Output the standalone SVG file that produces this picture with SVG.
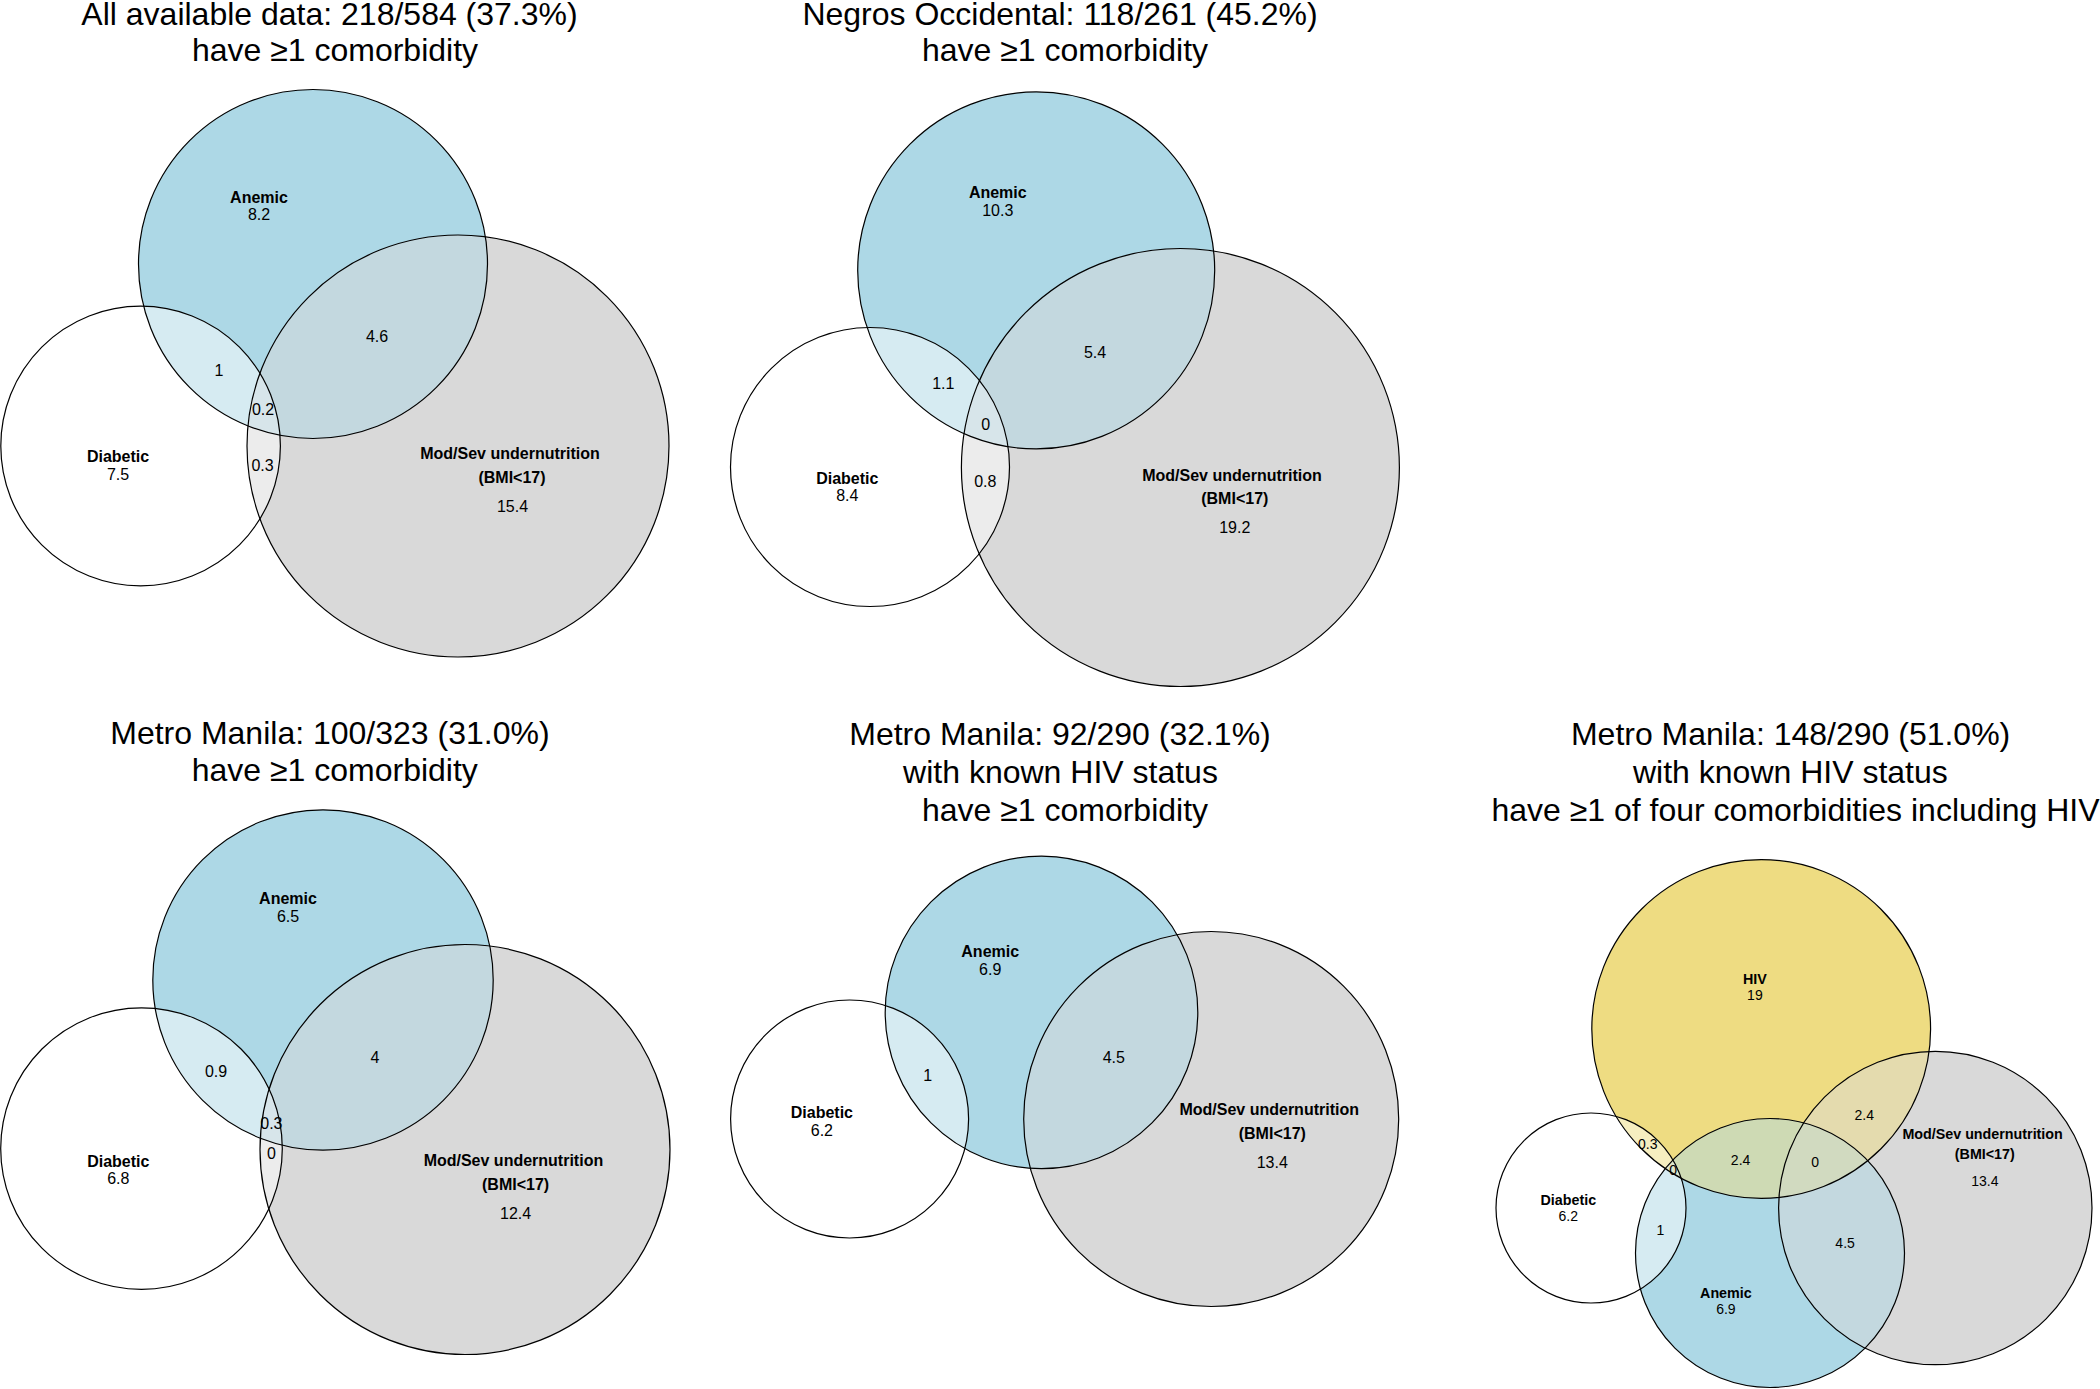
<svg xmlns="http://www.w3.org/2000/svg" width="2100" height="1389" viewBox="0 0 2100 1389">
<style>
text{font-family:"Liberation Sans",Arial,Helvetica,sans-serif;fill:#000;text-anchor:middle}
.t{font-size:32px}
.n{font-size:16px;font-weight:bold}
.v{font-size:16px}
.n5{font-size:14.3px;font-weight:bold}
.v5{font-size:14px}
.o{fill:none;stroke:#000;stroke-width:1.2}
.cL{fill:#add8e6}.cG{fill:#d9d9d9}.cW{fill:#fff}.cY{fill:#eedc82}
.cLW{fill:#d6ebf2}.cLG{fill:#c3d8df}.cGW{fill:#ececec}.cLGW{fill:#d7e5ea}
.cYW{fill:#f6eec0}.cYL{fill:#cedab4}.cYG{fill:#e4dbae}.cYLW{fill:#dee6cd}.cYLG{fill:#d1dac0}
</style>
<defs>
<clipPath id="p1A"><circle cx="313" cy="264" r="174.5"/></clipPath>
<clipPath id="p1D"><circle cx="140.6" cy="446" r="139.8"/></clipPath>
<clipPath id="p2A"><circle cx="1036.2" cy="270.4" r="178.5"/></clipPath>
<clipPath id="p2D"><circle cx="870" cy="467" r="139.5"/></clipPath>
<clipPath id="p3A"><circle cx="323" cy="980" r="170.2"/></clipPath>
<clipPath id="p3D"><circle cx="141.5" cy="1148.6" r="140.8"/></clipPath>
<clipPath id="p4A"><circle cx="1041.5" cy="1012.4" r="156.3"/></clipPath>
<clipPath id="p5H"><circle cx="1761.2" cy="1029" r="169.4"/></clipPath>
<clipPath id="p5A"><circle cx="1770" cy="1253" r="134.5"/></clipPath>
<clipPath id="p5D"><circle cx="1591" cy="1208" r="95"/></clipPath>
</defs>
<rect width="2100" height="1389" fill="#fff"/>

<!-- Panel 1 -->
<g id="panel1">
<text class="t" x="329.5" y="25">All available data: 218/584 (37.3%)</text>
<text class="t" x="335" y="61">have ≥1 comorbidity</text>
<g id="p1-regions">
<circle class="cL" cx="313" cy="264" r="174.5"/>
<circle class="cW" cx="140.6" cy="446" r="139.8"/>
<circle class="cG" cx="458" cy="446" r="211"/>
<circle class="cLW" cx="140.6" cy="446" r="139.8" clip-path="url(#p1A)"/>
<circle class="cLG" cx="458" cy="446" r="211" clip-path="url(#p1A)"/>
<circle class="cGW" cx="458" cy="446" r="211" clip-path="url(#p1D)"/>
<g clip-path="url(#p1A)"><circle class="cLGW" cx="458" cy="446" r="211" clip-path="url(#p1D)"/></g>
</g>
<g id="p1-anemic"><circle class="o" cx="313" cy="264" r="174.5"/><text class="n" x="259" y="202.5">Anemic</text><text class="v" x="259" y="220">8.2</text></g>
<g id="p1-diabetic"><circle class="o" cx="140.6" cy="446" r="139.8"/><text class="n" x="118" y="461.8">Diabetic</text><text class="v" x="118" y="480">7.5</text></g>
<g id="p1-undernutrition"><circle class="o" cx="458" cy="446" r="211"/><text class="n" x="510" y="458.8">Mod/Sev undernutrition</text><text class="n" x="512" y="482.7">(BMI&lt;17)</text><text class="v" x="512.5" y="511.7">15.4</text></g>
<g id="p1-overlaps">
<text class="v" x="377" y="341.7">4.6</text>
<text class="v" x="219" y="376.4">1</text>
<text class="v" x="263" y="415">0.2</text>
<text class="v" x="262.5" y="470.5">0.3</text>
</g>
</g>

<!-- Panel 2 -->
<g id="panel2">
<text class="t" x="1060" y="25">Negros Occidental: 118/261 (45.2%)</text>
<text class="t" x="1065" y="61">have ≥1 comorbidity</text>
<g id="p2-regions">
<circle class="cL" cx="1036.2" cy="270.4" r="178.5"/>
<circle class="cW" cx="870" cy="467" r="139.5"/>
<circle class="cG" cx="1180.4" cy="467.5" r="219"/>
<circle class="cLW" cx="870" cy="467" r="139.5" clip-path="url(#p2A)"/>
<circle class="cLG" cx="1180.4" cy="467.5" r="219" clip-path="url(#p2A)"/>
<circle class="cGW" cx="1180.4" cy="467.5" r="219" clip-path="url(#p2D)"/>
<g clip-path="url(#p2A)"><circle class="cLGW" cx="1180.4" cy="467.5" r="219" clip-path="url(#p2D)"/></g>
</g>
<g id="p2-anemic"><circle class="o" cx="1036.2" cy="270.4" r="178.5"/><text class="n" x="997.8" y="198.2">Anemic</text><text class="v" x="997.8" y="216">10.3</text></g>
<g id="p2-diabetic"><circle class="o" cx="870" cy="467" r="139.5"/><text class="n" x="847.3" y="484">Diabetic</text><text class="v" x="847.3" y="501.3">8.4</text></g>
<g id="p2-undernutrition"><circle class="o" cx="1180.4" cy="467.5" r="219"/><text class="n" x="1232" y="480.5">Mod/Sev undernutrition</text><text class="n" x="1234.8" y="504.3">(BMI&lt;17)</text><text class="v" x="1234.8" y="532.5">19.2</text></g>
<g id="p2-overlaps">
<text class="v" x="1095" y="357.8">5.4</text>
<text class="v" x="943.3" y="389.4">1.1</text>
<text class="v" x="985.7" y="430.2">0</text>
<text class="v" x="985.3" y="487">0.8</text>
</g>
</g>

<!-- Panel 3 -->
<g id="panel3">
<text class="t" x="329.9" y="744">Metro Manila: 100/323 (31.0%)</text>
<text class="t" x="334.8" y="781">have ≥1 comorbidity</text>
<g id="p3-regions">
<circle class="cL" cx="323" cy="980" r="170.2"/>
<circle class="cW" cx="141.5" cy="1148.6" r="140.8"/>
<circle class="cG" cx="465" cy="1149.5" r="205"/>
<circle class="cLW" cx="141.5" cy="1148.6" r="140.8" clip-path="url(#p3A)"/>
<circle class="cLG" cx="465" cy="1149.5" r="205" clip-path="url(#p3A)"/>
<circle class="cGW" cx="465" cy="1149.5" r="205" clip-path="url(#p3D)"/>
<g clip-path="url(#p3A)"><circle class="cLGW" cx="465" cy="1149.5" r="205" clip-path="url(#p3D)"/></g>
</g>
<g id="p3-anemic"><circle class="o" cx="323" cy="980" r="170.2"/><text class="n" x="288" y="904.3">Anemic</text><text class="v" x="288" y="921.9">6.5</text></g>
<g id="p3-diabetic"><circle class="o" cx="141.5" cy="1148.6" r="140.8"/><text class="n" x="118.3" y="1166.6">Diabetic</text><text class="v" x="118.3" y="1184.2">6.8</text></g>
<g id="p3-undernutrition"><circle class="o" cx="465" cy="1149.5" r="205"/><text class="n" x="513.4" y="1165.7">Mod/Sev undernutrition</text><text class="n" x="515.6" y="1189.9">(BMI&lt;17)</text><text class="v" x="515.6" y="1218.5">12.4</text></g>
<g id="p3-overlaps">
<text class="v" x="375" y="1062.5">4</text>
<text class="v" x="216" y="1076.5">0.9</text>
<text class="v" x="271.4" y="1129.3">0.3</text>
<text class="v" x="271.4" y="1159.1">0</text>
</g>
</g>

<!-- Panel 4 -->
<g id="panel4">
<text class="t" x="1060" y="745">Metro Manila: 92/290 (32.1%)</text>
<text class="t" x="1060.5" y="783">with known HIV status</text>
<text class="t" x="1065" y="821">have ≥1 comorbidity</text>
<g id="p4-regions">
<circle class="cL" cx="1041.5" cy="1012.4" r="156.3"/>
<circle class="cW" cx="849.6" cy="1119" r="119"/>
<circle class="cG" cx="1211.2" cy="1119" r="187.5"/>
<circle class="cLW" cx="849.6" cy="1119" r="119" clip-path="url(#p4A)"/>
<circle class="cLG" cx="1211.2" cy="1119" r="187.5" clip-path="url(#p4A)"/>
</g>
<g id="p4-anemic"><circle class="o" cx="1041.5" cy="1012.4" r="156.3"/><text class="n" x="990.2" y="957">Anemic</text><text class="v" x="990.2" y="974.6">6.9</text></g>
<g id="p4-diabetic"><circle class="o" cx="849.6" cy="1119" r="119"/><text class="n" x="821.9" y="1118.3">Diabetic</text><text class="v" x="821.9" y="1135.9">6.2</text></g>
<g id="p4-undernutrition"><circle class="o" cx="1211.2" cy="1119" r="187.5"/><text class="n" x="1269.2" y="1115.2">Mod/Sev undernutrition</text><text class="n" x="1272.3" y="1139.4">(BMI&lt;17)</text><text class="v" x="1272.3" y="1167.9">13.4</text></g>
<g id="p4-overlaps">
<text class="v" x="1113.8" y="1063.4">4.5</text>
<text class="v" x="927.7" y="1080.9">1</text>
</g>
</g>

<!-- Panel 5 -->
<g id="panel5">
<text class="t" x="1790.6" y="745">Metro Manila: 148/290 (51.0%)</text>
<text class="t" x="1790.4" y="783">with known HIV status</text>
<text class="t" x="1795.5" y="821">have ≥1 of four comorbidities including HIV</text>
<g id="p5-regions">
<circle class="cY" cx="1761.2" cy="1029" r="169.4"/>
<circle class="cW" cx="1591" cy="1208" r="95"/>
<circle class="cL" cx="1770" cy="1253" r="134.5"/>
<circle class="cG" cx="1935.3" cy="1208" r="156.7"/>
<circle class="cYW" cx="1591" cy="1208" r="95" clip-path="url(#p5H)"/>
<circle class="cYL" cx="1770" cy="1253" r="134.5" clip-path="url(#p5H)"/>
<circle class="cYG" cx="1935.3" cy="1208" r="156.7" clip-path="url(#p5H)"/>
<circle class="cLW" cx="1591" cy="1208" r="95" clip-path="url(#p5A)"/>
<circle class="cLG" cx="1935.3" cy="1208" r="156.7" clip-path="url(#p5A)"/>
<g clip-path="url(#p5H)"><circle class="cYLW" cx="1591" cy="1208" r="95" clip-path="url(#p5A)"/></g>
<g clip-path="url(#p5H)"><circle class="cYLG" cx="1935.3" cy="1208" r="156.7" clip-path="url(#p5A)"/></g>
</g>
<g id="p5-hiv"><circle class="o" cx="1761.2" cy="1029" r="169.4"/><text class="n5" x="1754.9" y="984.3">HIV</text><text class="v5" x="1754.9" y="1000">19</text></g>
<g id="p5-diabetic"><circle class="o" cx="1591" cy="1208" r="95"/><text class="n5" x="1568.3" y="1205.3">Diabetic</text><text class="v5" x="1568.3" y="1220.6">6.2</text></g>
<g id="p5-anemic"><circle class="o" cx="1770" cy="1253" r="134.5"/><text class="n5" x="1725.9" y="1297.5">Anemic</text><text class="v5" x="1725.9" y="1313.8">6.9</text></g>
<g id="p5-undernutrition"><circle class="o" cx="1935.3" cy="1208" r="156.7"/><text class="n5" x="1982.6" y="1138.5">Mod/Sev undernutrition</text><text class="n5" x="1984.8" y="1159.1">(BMI&lt;17)</text><text class="v5" x="1984.8" y="1185.5">13.4</text></g>
<g id="p5-overlaps">
<text class="v5" x="1864.3" y="1119.6">2.4</text>
<text class="v5" x="1647.8" y="1149">0.3</text>
<text class="v5" x="1673.2" y="1174.5">0</text>
<text class="v5" x="1740.6" y="1164.8">2.4</text>
<text class="v5" x="1815.2" y="1166.6">0</text>
<text class="v5" x="1660.3" y="1234.7">1</text>
<text class="v5" x="1845.1" y="1248.3">4.5</text>
</g>
</g>
</svg>
